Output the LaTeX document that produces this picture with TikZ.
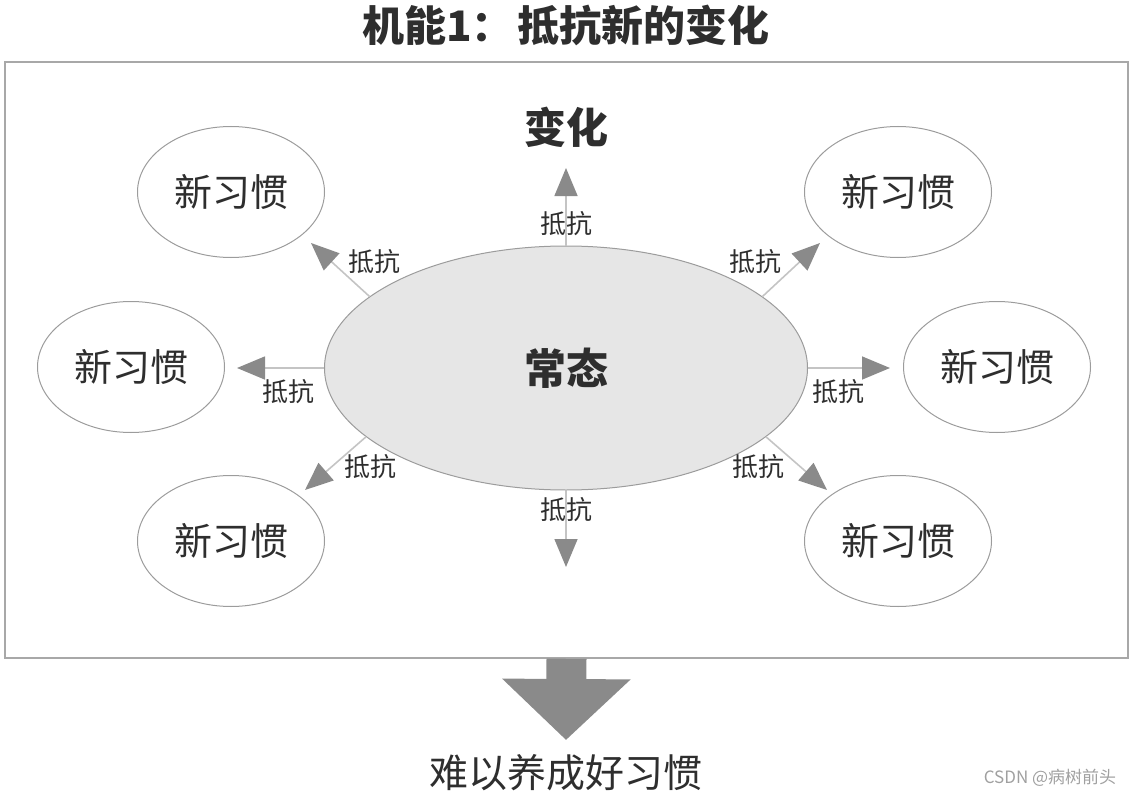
\documentclass[tikz,border=0pt]{standalone}
\usepackage{fontspec}
\setmainfont{Noto Sans CJK SC}
\usepackage{tikz}
\usetikzlibrary{arrows.meta}
\usetikzlibrary{shapes}
\definecolor{framegray}{HTML}{A8A8A8}
\definecolor{ringgray}{HTML}{9C9C9C}
\definecolor{coregray}{HTML}{E6E6E6}
\definecolor{shaftgray}{HTML}{C4C4C4}
\definecolor{headgray}{HTML}{8A8A8A}
\definecolor{inkgray}{HTML}{2E2E2E}
\definecolor{markgray}{HTML}{A0A0A0}

\begin{document}
\begin{tikzpicture}[x=1pt,y=-1pt,
    habit/.style={ellipse, draw=ringgray, line width=1pt, minimum width=187pt, minimum height=131pt, inner sep=0pt, font=\fontsize{38}{40}\selectfont, text=inkgray},
    resist/.style={draw=shaftgray, line width=1.6pt, -{Triangle[length=28pt,width=23pt,color=headgray]}},
    tag/.style={font=\fontsize{26}{28}\selectfont, text=inkgray}]
  \useasboundingbox (0,0) rectangle (1133,797);
  \node[font=\bfseries\fontsize{42}{44}\selectfont, text=inkgray] (title) at (566,25) {机能1：\hspace{4pt}抵抗新的变化};
  \node[draw=framegray, line width=1.5pt, minimum width=1123pt, minimum height=596pt, inner sep=0pt] (frame) at (566.5,360) {};
  \node[ellipse, draw=ringgray, line width=1pt, fill=coregray, minimum width=483pt, minimum height=244pt, inner sep=0pt, font=\bfseries\fontsize{42}{44}\selectfont, text=inkgray] (norm) at (566,368) {常态};
  \node[font=\bfseries\fontsize{42}{44}\selectfont, text=inkgray] (change) at (566,127) {变化};
  \node[habit] (hUL) at (231,192) {新习惯};
  \node[habit] (hUR) at (898,192) {新习惯};
  \node[habit] (hL) at (131,367) {新习惯};
  \node[habit] (hR) at (997,367) {新习惯};
  \node[habit] (hDL) at (231,541) {新习惯};
  \node[habit] (hDR) at (898,541) {新习惯};
  \coordinate (tU) at (566,168);
  \coordinate (tD) at (566,567);
  \coordinate (tL) at (237,368);
  \coordinate (tR) at (890,368);
  \coordinate (tUL) at (311,243);
  \coordinate (tUR) at (820,243);
  \coordinate (tDL) at (305,490);
  \coordinate (tDR) at (827,490);
  \draw[resist] (norm.north) -- (tU);
  \draw[resist] (norm.south) -- (tD);
  \draw[resist] (norm.west) -- (tL);
  \draw[resist] (norm.east) -- (tR);
  \draw[resist] (norm.160) -- (tUL);
  \draw[resist] (norm.20) -- (tUR);
  \draw[resist] (norm.199) -- (tDL);
  \draw[resist] (norm.341) -- (tDR);
  \node[tag] (rU) at (566,224) {抵抗};
  \node[tag] (rD) at (566,510) {抵抗};
  \node[tag] (rL) at (288,392) {抵抗};
  \node[tag] (rR) at (838,392) {抵抗};
  \node[tag] (rUL) at (374,262) {抵抗};
  \node[tag] (rUR) at (755,262) {抵抗};
  \node[tag] (rDL) at (370,467) {抵抗};
  \node[tag] (rDR) at (758,467) {抵抗};
  \coordinate (sink) at (566,740);
  \draw[draw=headgray, line width=40pt, -{Triangle[length=61pt,width=125pt,color=headgray]}] (frame.south) -- (sink);
  \node[font=\fontsize{39}{41}\selectfont, text=inkgray] (outcome) at (566,773) {难以养成好习惯};
  \node[font=\fontsize{17}{19}\selectfont, text=markgray] (mark) at (1050,778) {CSDN @病树前头};
\end{tikzpicture}
\end{document}
